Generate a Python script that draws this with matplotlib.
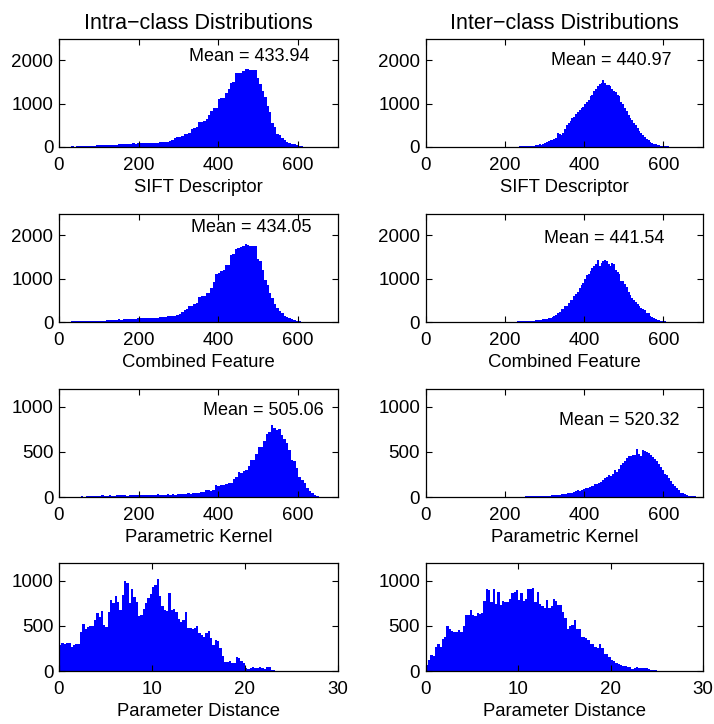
import numpy as np
import matplotlib.pyplot as plt

plt.rcParams['font.family'] = ['Liberation Sans', 'DejaVu Sans']
plt.rcParams['font.size'] = 13

# ---- histogram data (bin start, bin width, counts) ----
# intra-class, SIFT descriptor
sift_intra_start, sift_intra_width = 25, 6.12
sift_intra = [10, 12, 10, 12, 14, 12, 15, 14, 16, 18,
              20, 35, 38, 40, 42, 45, 48, 50, 55, 52,
              65, 60, 70, 68, 75, 72, 85, 80, 90, 85,
              88, 92, 95, 90, 98, 100, 95, 105, 110, 115,
              120, 130, 150, 200, 240, 230, 250, 310, 300, 330,
              420, 430, 470, 570, 580, 600, 650, 750, 820, 900,
              900, 1100, 1120, 1140, 1250, 1330, 1480, 1500, 1700, 1710,
              1720, 1760, 1790, 1810, 1780, 1780, 1770, 1600, 1450, 1300,
              1150, 950, 800, 560, 450, 300, 280, 200, 170, 120,
              100, 80, 60, 40, 25, 15, 10, 8, 5, 4]

# inter-class, SIFT descriptor
sift_inter_start, sift_inter_width = 171, 4.58
sift_inter = [3, 4, 4, 5, 5, 6, 6, 7, 7, 8,
              8, 9, 10, 10, 11, 12, 13, 15, 20, 22,
              25, 28, 30, 35, 40, 60, 55, 75, 90, 110,
              140, 160, 170, 190, 200, 330, 290, 280, 320, 420,
              500, 550, 600, 680, 700, 760, 800, 850, 900, 930,
              1000, 1050, 1080, 1170, 1200, 1300, 1330, 1400, 1450, 1480,
              1540, 1480, 1430, 1420, 1400, 1350, 1300, 1270, 1200, 1170,
              1050, 1000, 900, 830, 750, 680, 620, 560, 500, 440,
              380, 330, 270, 220, 190, 150, 120, 100, 80, 60,
              45, 40, 30, 25, 20, 15, 12, 8, 6, 5]

# intra-class, combined feature
comb_intra_start, comb_intra_width = 25, 6.12
comb_intra = [12, 14, 15, 14, 16, 18, 16, 18, 20, 20,
              22, 25, 28, 30, 35, 38, 40, 45, 50, 55,
              60, 55, 65, 70, 75, 70, 80, 75, 85, 90,
              85, 90, 95, 92, 98, 100, 100, 105, 115, 120,
              130, 140, 145, 150, 170, 190, 240, 270, 300, 360,
              380, 410, 430, 580, 590, 600, 660, 680, 780, 930,
              1110, 1130, 1180, 1200, 1310, 1320, 1550, 1560, 1680, 1700,
              1740, 1760, 1800, 1790, 1760, 1760, 1750, 1450, 1400, 1200,
              970, 850, 660, 550, 420, 330, 250, 200, 150, 120,
              90, 70, 50, 35, 20, 12, 8, 6, 4, 3]

# inter-class, combined feature
comb_inter_start, comb_inter_width = 171, 4.58
comb_inter = [3, 4, 5, 5, 6, 7, 8, 8, 9, 10,
              10, 12, 12, 14, 15, 16, 18, 20, 22, 25,
              28, 30, 35, 40, 45, 50, 55, 65, 75, 80,
              95, 100, 120, 130, 160, 210, 230, 290, 300, 360,
              380, 430, 500, 510, 600, 650, 700, 780, 850, 900,
              1000, 1090, 1100, 1180, 1250, 1300, 1330, 1440, 1300, 1360,
              1420, 1440, 1400, 1350, 1300, 1360, 1330, 1210, 1150, 1100,
              950, 940, 880, 800, 700, 620, 550, 500, 460, 420,
              370, 330, 300, 270, 220, 200, 150, 120, 100, 70,
              50, 40, 30, 25, 18, 12, 10, 8, 6, 5]

# intra-class, parametric kernel
kern_intra_start, kern_intra_width = 23, 6.35
kern_intra = [3, 4, 5, 4, 5, 6, 5, 6, 7, 6,
              8, 7, 9, 20, 10, 12, 25, 15, 10, 18,
              20, 18, 22, 15, 25, 20, 18, 22, 20, 20,
              22, 25, 28, 25, 22, 30, 24, 28, 22, 30,
              26, 30, 25, 30, 35, 32, 30, 40, 38, 44,
              45, 40, 60, 55, 80, 75, 70, 80, 130, 125,
              130, 130, 140, 150, 160, 200, 220, 280, 270, 290,
              300, 340, 410, 415, 480, 555, 560, 620, 700, 720,
              800, 760, 740, 750, 690, 640, 600, 520, 415, 400,
              325, 220, 185, 150, 100, 70, 40, 25, 10, 3]

# inter-class, parametric kernel
kern_inter_start, kern_inter_width = 196, 5.0
kern_inter = [2, 3, 3, 3, 4, 4, 4, 5, 5, 5,
              5, 6, 6, 6, 7, 7, 8, 8, 9, 10,
              15, 10, 12, 15, 20, 22, 18, 25, 28, 30,
              35, 33, 40, 45, 50, 55, 65, 74, 70, 80,
              90, 95, 100, 110, 118, 125, 140, 148, 160, 170,
              190, 210, 220, 240, 235, 260, 305, 280, 315, 350,
              380, 400, 430, 450, 460, 465, 470, 530, 480, 460,
              520, 510, 500, 485, 470, 440, 425, 400, 370, 330,
              296, 260, 240, 210, 180, 148, 120, 100, 80, 50,
              40, 30, 20, 15, 10, 8, 6, 5, 5, 4]

# intra-class, parameter distance
dist_intra_start, dist_intra_width = 0, 0.25
dist_intra = [287, 313, 300, 313, 305, 268, 285, 295, 300, 430,
              522, 470, 490, 500, 495, 560, 640, 600, 660, 510,
              485, 650, 783, 750, 835, 760, 680, 840, 1000, 980,
              750, 910, 820, 770, 612, 620, 686, 750, 810, 850,
              930, 950, 1015, 835, 716, 680, 670, 865, 680, 690,
              650, 575, 540, 560, 650, 474, 480, 470, 475, 500,
              418, 400, 373, 420, 448, 370, 287, 343, 330, 250,
              164, 100, 100, 110, 90, 90, 150, 140, 110, 90,
              37, 20, 30, 40, 30, 30, 40, 30, 20, 40,
              40, 10, 8, 5, 3]

# inter-class, parameter distance
dist_inter_start, dist_inter_width = 0, 0.25
dist_inter = [63, 120, 175, 170, 270, 300, 270, 350, 380, 500,
              470, 440, 435, 430, 450, 430, 500, 623, 620, 672,
              620, 610, 640, 630, 640, 772, 910, 900, 760, 910,
              746, 873, 730, 780, 760, 770, 800, 866, 880, 903,
              790, 870, 780, 800, 910, 910, 921, 770, 880, 740,
              720, 700, 790, 700, 720, 800, 780, 730, 730, 650,
              585, 466, 500, 510, 560, 470, 470, 373, 380, 370,
              340, 300, 300, 270, 260, 300, 260, 194, 190, 150,
              120, 108, 90, 80, 70, 60, 50, 45, 40, 18,
              37, 40, 30, 30, 28, 30, 20, 10, 8, 6,
              5, 5, 4, 4, 3, 3, 3, 3]

xlabels = ['SIFT Descriptor', 'Combined Feature', 'Parametric Kernel', 'Parameter Distance']
col_titles = ['Intra\u2212class Distributions', 'Inter\u2212class Distributions']
means = [[433.94, 440.97], [434.05, 441.54], [505.06, 520.32]]
mean_pos = [[(325, 2100), (316, 2000)],
            [(331, 2190), (299, 1920)],
            [(361, 960), (337, 850)]]

panels = [[(sift_intra_start, sift_intra_width, sift_intra),
           (sift_inter_start, sift_inter_width, sift_inter)],
          [(comb_intra_start, comb_intra_width, comb_intra),
           (comb_inter_start, comb_inter_width, comb_inter)],
          [(kern_intra_start, kern_intra_width, kern_intra),
           (kern_inter_start, kern_inter_width, kern_inter)],
          [(dist_intra_start, dist_intra_width, dist_intra),
           (dist_inter_start, dist_inter_width, dist_inter)]]

ylims = [2500, 2500, 1200, 1200]
yticks = [[0, 1000, 2000], [0, 1000, 2000], [0, 500, 1000], [0, 500, 1000]]

fig = plt.figure(figsize=(7.14, 7.24), dpi=100)

lefts = [0.0826, 0.5962]
widths = [0.3908, 0.3885]
bottoms = [0.797, 0.5552, 0.3135, 0.0732]
height = 0.1495

for r in range(4):
    for c in range(2):
        ax = fig.add_axes([lefts[c], bottoms[r], widths[c], height])
        start, w, counts = panels[r][c]
        edges = start + w * np.arange(len(counts) + 1)
        ax.stairs(counts, edges, fill=True, color=(0, 0, 1), linewidth=0)
        if r < 3:
            ax.set_xlim(0, 700)
            ax.set_xticks([0, 200, 400, 600])
        else:
            ax.set_xlim(0, 30)
            ax.set_xticks([0, 10, 20, 30])
        ax.set_ylim(0, ylims[r])
        ax.set_yticks(yticks[r])
        ax.tick_params(direction='in', top=True, right=True, length=4, width=0.8,
                       labelsize=13.5)
        ax.tick_params(axis='x', pad=7)
        ax.tick_params(axis='y', pad=4)
        for s in ax.spines.values():
            s.set_linewidth(0.9)
        ax.set_xlabel(xlabels[r], fontsize=13.3, labelpad=4)
        if r < 3:
            mx, my = mean_pos[r][c]
            ax.text(mx, my, 'Mean = %.2f' % means[r][c], fontsize=13,
                    ha='left', va='center')
        if r == 0:
            ax.set_title(col_titles[c], fontsize=15.5, pad=7)

fig.savefig('out.png', dpi=100)
